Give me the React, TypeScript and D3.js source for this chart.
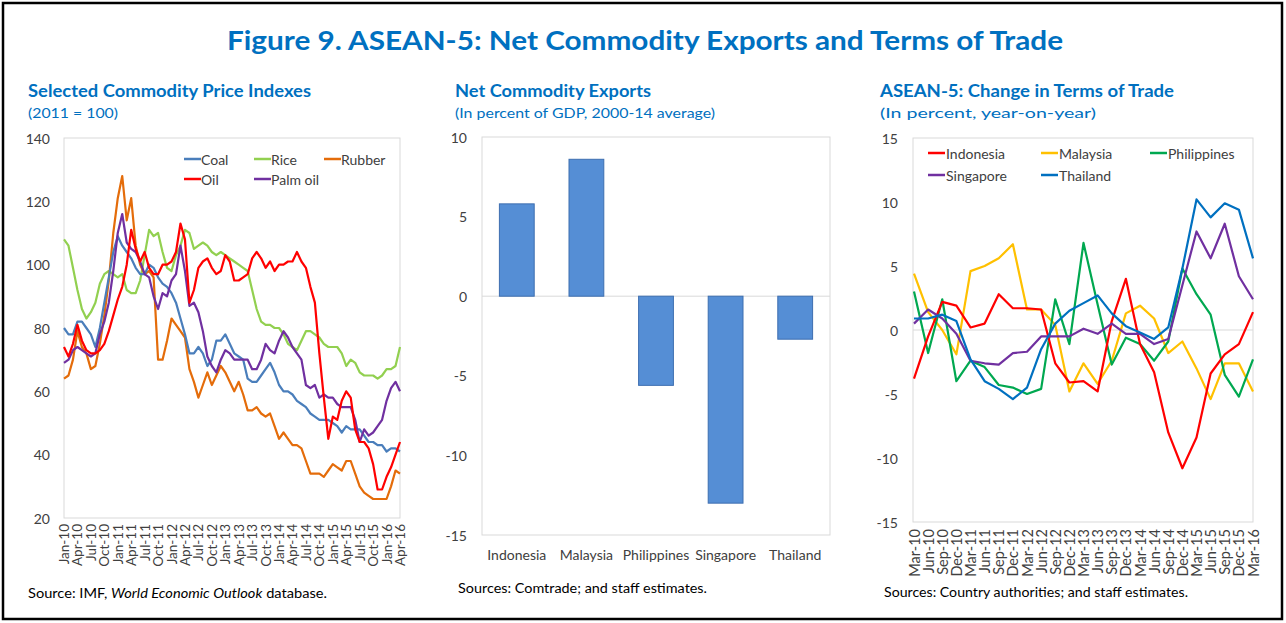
import React from "react";
import * as d3 from "d3";

// ---------- Left panel: Selected Commodity Price Indexes (monthly, Jan-10 .. Apr-16) ----------
const commodityTicks = [
  "Jan-10", "Apr-10", "Jul-10", "Oct-10", "Jan-11", "Apr-11", "Jul-11", "Oct-11",
  "Jan-12", "Apr-12", "Jul-12", "Oct-12", "Jan-13", "Apr-13", "Jul-13", "Oct-13",
  "Jan-14", "Apr-14", "Jul-14", "Oct-14", "Jan-15", "Apr-15", "Jul-15", "Oct-15",
  "Jan-16", "Apr-16",
];
const coal = [
  80, 78, 78, 82, 82, 80, 78, 74, 80, 88,
  96, 104, 109, 106, 104, 102, 99, 97, 97, 100,
  99, 96, 94, 93, 91, 88, 83, 78, 72, 72,
  74, 72, 68, 70, 76, 76, 78, 75, 72, 71,
  70, 64, 63, 63, 65, 67, 69, 66, 62, 60,
  60, 59, 57, 56, 55, 53, 52, 51, 51, 51,
  50, 49, 47, 49, 48, 48, 48, 46, 44, 44,
  43, 43, 41, 42, 42, 41,
];
const rice = [
  108, 106, 99, 92, 86, 83, 85, 88, 94, 97,
  98, 97, 96, 97, 92, 91, 91, 95, 103, 111,
  109, 110, 104, 99, 98, 103, 106, 111, 110, 105,
  106, 107, 106, 104, 103, 104, 103, 102, 101, 100,
  99, 98, 92, 86, 82, 81, 81, 80, 80, 78,
  75, 74, 73, 76, 79, 79, 78, 77, 75, 74,
  74, 74, 72, 68, 70, 69, 66, 65, 65, 65,
  64, 65, 67, 67, 68, 74,
];
const rubber = [
  64, 65, 70, 79, 74, 72, 67, 68, 75, 84,
  95, 110, 121, 128, 114, 121, 106, 100, 97, 98,
  96, 70, 70, 76, 83, 81, 79, 77, 67, 63,
  58, 62, 66, 62, 65, 68, 66, 63, 60, 63,
  59, 54, 54, 55, 53, 52, 53, 49, 45, 47,
  45, 43, 43, 42, 38, 34, 34, 34, 33, 35,
  37, 36, 35, 38, 38, 34, 30, 28, 27, 26,
  26, 26, 26, 30, 35, 34,
];
const oil = [
  74, 71, 75, 81, 76, 73, 72, 72, 73, 75,
  79, 84, 89, 93, 100, 111, 105, 101, 104, 99,
  97, 97, 100, 100, 101, 104, 113, 108, 88, 92,
  99, 101, 102, 99, 97, 98, 103, 101, 95, 95,
  96, 97, 102, 104, 102, 99, 101, 98, 100, 100,
  101, 101, 104, 101, 99, 93, 88, 72, 58, 45,
  52, 51, 57, 60, 58, 48, 44, 44, 42, 37,
  29, 29, 33, 36, 40, 44,
];
const palmOil = [
  69, 70, 73, 74, 73, 72, 71, 72, 78, 82,
  88, 98, 110, 116, 107, 105, 104, 101, 97, 96,
  90, 86, 91, 90, 95, 97, 106, 98, 87, 88,
  85, 79, 71, 68, 66, 70, 73, 72, 70, 70,
  70, 70, 67, 67, 70, 75, 73, 72, 76, 79,
  77, 74, 72, 70, 62, 61, 62, 58, 59, 58,
  58, 56, 55, 55, 55, 51, 44, 48, 46, 47,
  49, 51, 57, 61, 63, 60,
];
const commodityNames = ["Coal", "Rice", "Rubber", "Oil", "Palm oil"];
const commodityColors = ["#4a7ebb", "#92d050", "#e46c0a", "#ff0000", "#7030a0"];
const commodityYTicks = [20, 40, 60, 80, 100, 120, 140];

// ---------- Middle panel: Net Commodity Exports ----------
const countries = ["Indonesia", "Malaysia", "Philippines", "Singapore", "Thailand"];
const netExports = [5.8, 8.6, -5.6, -13.0, -2.7];
const netYTicks = [-15, -10, -5, 0, 5, 10];

// ---------- Right panel: Change in Terms of Trade (quarterly) ----------
const totTicks = [
  "Mar-10", "Jun-10", "Sep-10", "Dec-10", "Mar-11", "Jun-11", "Sep-11", "Dec-11",
  "Mar-12", "Jun-12", "Sep-12", "Dec-12", "Mar-13", "Jun-13", "Sep-13", "Dec-13",
  "Mar-14", "Jun-14", "Sep-14", "Dec-14", "Mar-15", "Jun-15", "Sep-15", "Dec-15",
  "Mar-16",
];
const totIndonesia = [-3.8, -0.5, 2.2, 1.9, 0.2, 0.5, 2.8, 1.7, 1.7, 1.6, -2.6, -4.1, -4.0, -4.8, 0.7, 4.0, -1.1, -3.3, -8.0, -10.8, -8.4, -3.4, -1.9, -1.1, 1.4];
const totMalaysia = [4.4, 1.4, 0.0, -1.9, 4.6, 5.0, 5.6, 6.7, 1.6, 1.6, 0.4, -4.8, -2.6, -4.2, -2.4, 1.3, 1.9, 0.9, -1.8, -0.9, -3.0, -5.4, -2.6, -2.6, -4.8];
const totPhilippines = [3.0, -1.8, 2.4, -4.0, -2.4, -2.9, -4.3, -4.5, -5.0, -4.6, 2.4, -1.1, 6.8, 2.0, -2.7, -0.6, -1.1, -2.4, -0.9, 4.8, 2.8, 1.2, -3.5, -5.2, -2.3];
const totSingapore = [0.5, 1.6, 0.9, -0.3, -2.4, -2.6, -2.7, -1.8, -1.7, -0.5, -0.5, -0.5, 0.1, -0.3, 0.5, -0.3, -0.3, -1.1, -0.7, 3.5, 7.7, 5.6, 8.3, 4.2, 2.4];
const totThailand = [0.9, 0.9, 1.2, 0.7, -2.3, -4.0, -4.6, -5.4, -4.5, -1.5, 0.5, 1.5, 2.1, 2.7, 1.3, 0.3, -0.2, -0.7, 0.2, 4.8, 10.2, 8.8, 9.9, 9.4, 5.6];
const totNames = ["Indonesia", "Malaysia", "Philippines", "Singapore", "Thailand"];
const totColors = ["#ff0000", "#ffc000", "#00a850", "#7030a0", "#0070c0"];
const totYTicks = [-15, -10, -5, 0, 5, 10, 15];

const BLUE = "#0070c0";
const FONT = "Lato, 'Open Sans', sans-serif";
const TICK_COLOR = "#404040";
const GRID = "#d9d9d9";

function LeftPanel() {
  const x = d3.scaleLinear().domain([0, coal.length - 1]).range([64, 400]);
  const y = d3.scaleLinear().domain([20, 140]).range([518, 138]);
  const series = [coal, rice, rubber, oil, palmOil];
  const line = d3.line<number>().x((_, i) => x(i)).y((d) => y(d));
  const drawOrder = [1, 2, 0, 4, 3];
  const legendPos = [
    { x: 184, y: 159 },
    { x: 254, y: 159 },
    { x: 324, y: 159 },
    { x: 184, y: 179 },
    { x: 254, y: 179 },
  ];
  return (
    <g>
      <rect x={64} y={138} width={336} height={380} fill="none" stroke={GRID} strokeWidth={1} />
      {commodityYTicks.map((t) => (
        <text key={t} x={50} y={y(t)} textAnchor="end" dominantBaseline="central" fontSize={14} fill={TICK_COLOR} fontFamily={FONT}>
          {t}
        </text>
      ))}
      {commodityTicks.map((lab, k) => (
        <text
          key={lab}
          transform={`translate(${x(k * 3)},${524}) rotate(-90)`}
          textAnchor="end"
          dominantBaseline="central"
          fontSize={13.5}
          fill={TICK_COLOR}
          fontFamily={FONT}
        >
          {lab}
        </text>
      ))}
      {drawOrder.map((s) => (
        <path key={s} d={line(series[s]) || ""} fill="none" stroke={commodityColors[s]} strokeWidth={2.2} strokeLinejoin="round" />
      ))}
      {commodityNames.map((n, i) => (
        <g key={n}>
          <line x1={legendPos[i].x} x2={legendPos[i].x + 17} y1={legendPos[i].y} y2={legendPos[i].y} stroke={commodityColors[i]} strokeWidth={2.5} />
          <text x={legendPos[i].x + 17} y={legendPos[i].y} dominantBaseline="central" fontSize={14} fill={TICK_COLOR} fontFamily={FONT}>
            {n}
          </text>
        </g>
      ))}
    </g>
  );
}

function MiddlePanel() {
  const x = d3.scaleBand<string>().domain(countries).range([482, 830]).paddingInner(0.5).paddingOuter(0.25);
  const y = d3.scaleLinear().domain([-15, 10]).range([535, 137]);
  return (
    <g>
      <rect x={482} y={137} width={348} height={398} fill="none" stroke={GRID} strokeWidth={1} />
      <line x1={482} x2={830} y1={y(0)} y2={y(0)} stroke={GRID} strokeWidth={1} />
      {netYTicks.map((t) => (
        <text key={t} x={467} y={y(t)} textAnchor="end" dominantBaseline="central" fontSize={14} fill={TICK_COLOR} fontFamily={FONT}>
          {t}
        </text>
      ))}
      {countries.map((c, i) => (
        <rect
          key={c}
          x={x(c)}
          width={x.bandwidth()}
          y={Math.min(y(0), y(netExports[i]))}
          height={Math.abs(y(netExports[i]) - y(0))}
          fill="#558ed5"
          stroke="#3d6eb0"
          strokeWidth={1}
        />
      ))}
      {countries.map((c) => (
        <text key={c} x={(x(c) || 0) + x.bandwidth() / 2} y={560} textAnchor="middle" fontSize={14} fill={TICK_COLOR} fontFamily={FONT}>
          {c}
        </text>
      ))}
    </g>
  );
}

function RightPanel() {
  const x = d3.scaleLinear().domain([0, totTicks.length - 1]).range([914, 1253]);
  const y = d3.scaleLinear().domain([-15, 15]).range([522, 138]);
  const series = [totIndonesia, totMalaysia, totPhilippines, totSingapore, totThailand];
  const line = d3.line<number>().x((_, i) => x(i)).y((d) => y(d));
  const drawOrder = [1, 2, 0, 3, 4];
  const legendPos = [
    { x: 928, y: 153 },
    { x: 1041, y: 153 },
    { x: 1150, y: 153 },
    { x: 928, y: 175 },
    { x: 1041, y: 175 },
  ];
  return (
    <g>
      <rect x={913} y={138} width={340} height={384} fill="none" stroke={GRID} strokeWidth={1} />
      <line x1={913} x2={1253} y1={y(0)} y2={y(0)} stroke={GRID} strokeWidth={1} />
      {totYTicks.map((t) => (
        <text key={t} x={898} y={y(t)} textAnchor="end" dominantBaseline="central" fontSize={14} fill={TICK_COLOR} fontFamily={FONT}>
          {t}
        </text>
      ))}
      {totTicks.map((lab, k) => (
        <text
          key={lab}
          transform={`translate(${x(k)},${529}) rotate(-90)`}
          textAnchor="end"
          dominantBaseline="central"
          fontSize={14.5}
          fill={TICK_COLOR}
          fontFamily={FONT}
        >
          {lab}
        </text>
      ))}
      {drawOrder.map((s) => (
        <path key={s} d={line(series[s]) || ""} fill="none" stroke={totColors[s]} strokeWidth={2.2} strokeLinejoin="round" />
      ))}
      {totNames.map((n, i) => (
        <g key={n}>
          <line x1={legendPos[i].x} x2={legendPos[i].x + 17} y1={legendPos[i].y} y2={legendPos[i].y} stroke={totColors[i]} strokeWidth={2.5} />
          <text x={legendPos[i].x + 18} y={legendPos[i].y} dominantBaseline="central" fontSize={14} fill={TICK_COLOR} fontFamily={FONT}>
            {n}
          </text>
        </g>
      ))}
    </g>
  );
}

export default function App() {
  return (
    <svg
      width={1286}
      height={623}
      style={{ position: "absolute", left: 0, top: 0, background: "#fff" }}
      fontFamily={FONT}
    >
      <rect x={0} y={0} width={1286} height={623} fill="#fff" />
      <rect x={3} y={3} width={1279} height={616} fill="none" stroke="#000" strokeWidth={2.5} />
      <text x={645} y={50} textAnchor="middle" fontSize={27} fontWeight="bold" fill={BLUE} textLength={836} lengthAdjust="spacingAndGlyphs">
        Figure 9. ASEAN-5: Net Commodity Exports and Terms of Trade
      </text>

      <text x={28} y={97} fontSize={16.5} fontWeight="bold" fill={BLUE} textLength={283} lengthAdjust="spacingAndGlyphs">
        Selected Commodity Price Indexes
      </text>
      <text x={28} y={118} fontSize={14} fill={BLUE} textLength={90} lengthAdjust="spacingAndGlyphs">
        (2011 = 100)
      </text>

      <text x={455} y={97} fontSize={16.5} fontWeight="bold" fill={BLUE} textLength={196} lengthAdjust="spacingAndGlyphs">
        Net Commodity Exports
      </text>
      <text x={455} y={118} fontSize={14} fill={BLUE} textLength={260} lengthAdjust="spacingAndGlyphs">
        (In percent of GDP, 2000-14 average)
      </text>

      <text x={880} y={97} fontSize={16.5} fontWeight="bold" fill={BLUE} textLength={294} lengthAdjust="spacingAndGlyphs">
        ASEAN-5: Change in Terms of Trade
      </text>
      <text x={880} y={118} fontSize={14} fill={BLUE} textLength={216} lengthAdjust="spacingAndGlyphs">
        (In percent, year-on-year)
      </text>

      <LeftPanel />
      <MiddlePanel />
      <RightPanel />

      <text x={28} y={598} fontSize={14} fill="#000" textLength={299} lengthAdjust="spacingAndGlyphs">
        Source: IMF, <tspan fontStyle="italic">World Economic Outlook</tspan> database.
      </text>
      <text x={458} y={593} fontSize={13.5} fill="#000" textLength={249} lengthAdjust="spacingAndGlyphs">
        Sources: Comtrade; and staff estimates.
      </text>
      <text x={884} y={597} fontSize={13.5} fill="#000" textLength={304} lengthAdjust="spacingAndGlyphs">
        Sources: Country authorities; and staff estimates.
      </text>
    </svg>
  );
}
